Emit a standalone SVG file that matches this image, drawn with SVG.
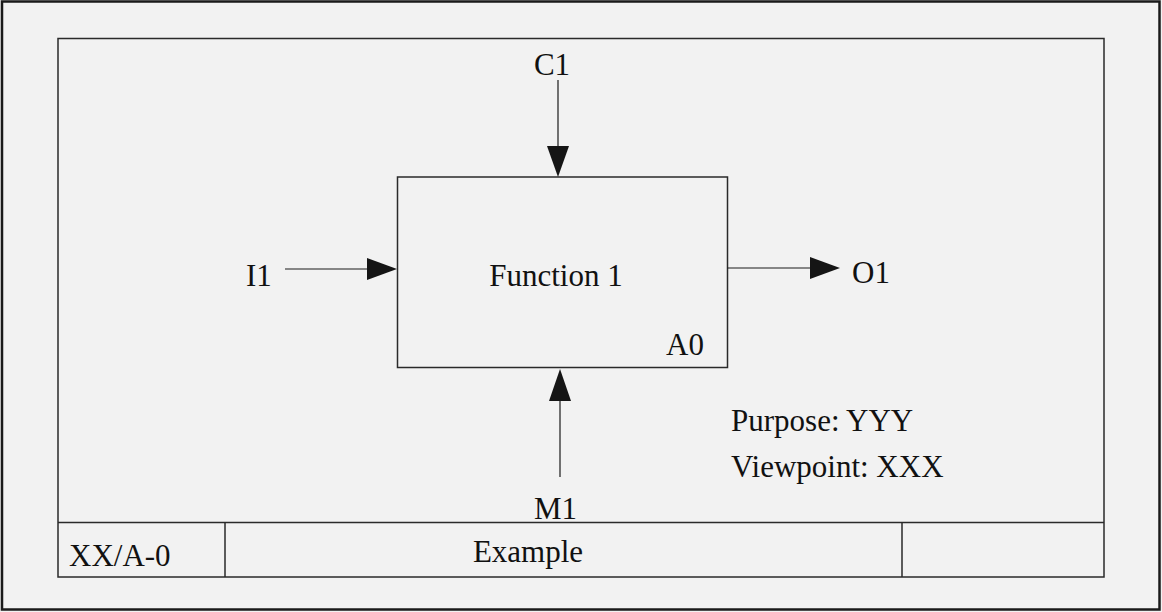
<svg xmlns="http://www.w3.org/2000/svg" width="1162" height="612" viewBox="0 0 1162 612">
  <style>
    .frame { fill: none; stroke: #2a2a2a; stroke-width: 1.5; }
    .line { fill: none; stroke: #1a1a1a; stroke-width: 1.2; }
    .head { fill: #151515; stroke: none; }
    .t { font-family: "Liberation Serif", "Times New Roman", serif; font-size: 31px; fill: #111111; }
  </style>
  <rect x="0" y="0" width="1162" height="612" fill="#f2f2f2"/>
  <rect x="2" y="1.5" width="1157.5" height="608" fill="none" stroke="#1a1a1a" stroke-width="2.5"/>
  <g id="frame">
    <rect class="frame" x="58" y="38.5" width="1046" height="538.5"/>
    <line class="frame" x1="58" y1="522.5" x2="1104" y2="522.5"/>
    <line class="frame" x1="225" y1="522.5" x2="225" y2="577"/>
    <line class="frame" x1="902" y1="522.5" x2="902" y2="577"/>
    <text class="t" x="69" y="566">XX/A-0</text>
    <text class="t" x="528" y="562" text-anchor="middle">Example</text>
  </g>
  <g id="A0">
    <rect class="frame" x="397.5" y="177" width="330" height="190.5"/>
    <text class="t" x="556" y="286" text-anchor="middle">Function 1</text>
    <text class="t" x="666" y="355">A0</text>
  </g>
  <g id="notes">
    <text class="t" x="731" y="431">Purpose: YYY</text>
    <text class="t" x="731" y="477">Viewpoint: XXX</text>
  </g>
  <g id="labels">
    <text class="t" x="552" y="75" text-anchor="middle">C1</text>
    <text class="t" x="246" y="286">I1</text>
    <text class="t" x="852" y="283">O1</text>
    <text class="t" x="534" y="519">M1</text>
  </g>
  <g id="connectors">
    <line class="line" x1="558" y1="80" x2="558" y2="150"/>
    <polygon class="head" points="547,146 569,146 558,177"/>
    <line class="line" x1="285" y1="269" x2="370" y2="269"/>
    <polygon class="head" points="367,258 397,269 367,280"/>
    <line class="line" x1="727.5" y1="268" x2="812" y2="268"/>
    <polygon class="head" points="810,257 840,268 810,279"/>
    <line class="line" x1="560" y1="477" x2="560" y2="398"/>
    <polygon class="head" points="549,401 571,401 560,369"/>
  </g>
</svg>
